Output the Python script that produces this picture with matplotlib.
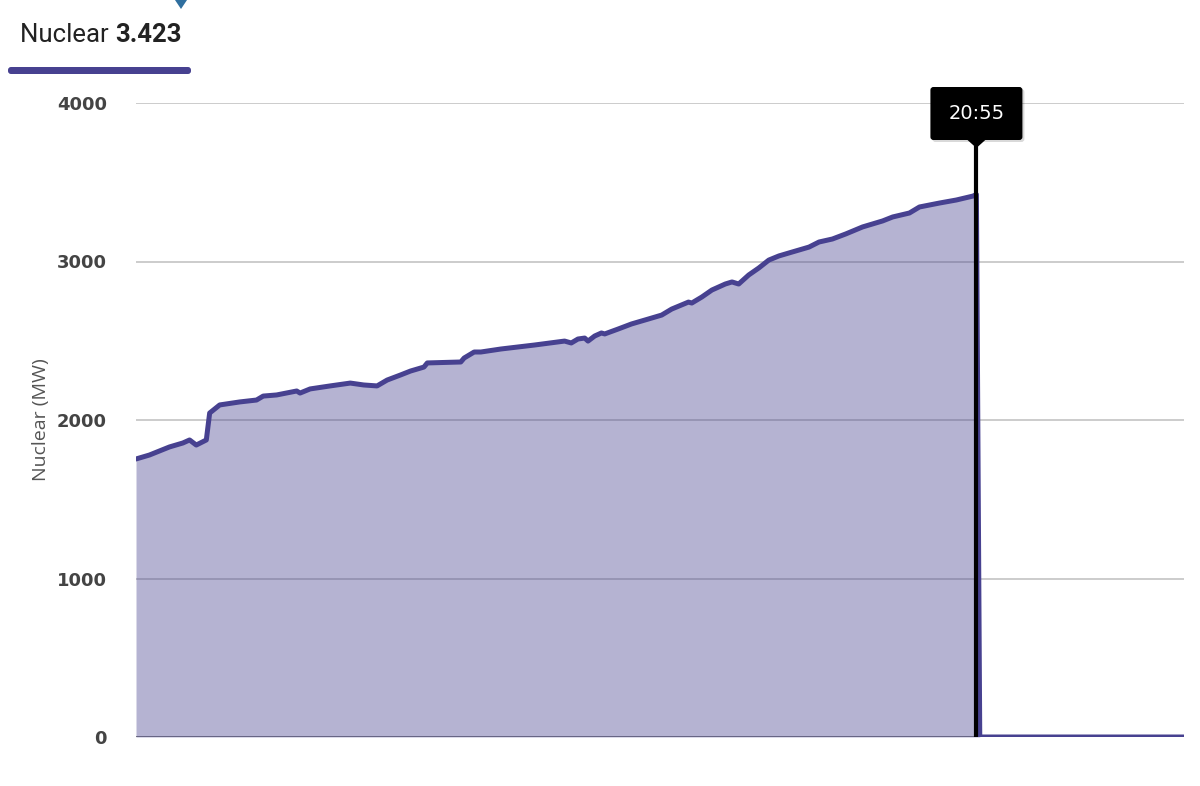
import numpy as np
import matplotlib.pyplot as plt
from matplotlib.patches import FancyBboxPatch, Polygon
from matplotlib.transforms import IdentityTransform

# Nuclear output (MW), times as HH:MM (past 24:00 = next day)
times = ["00:00", "00:20", "00:50", "01:10", "01:20", "01:30", "01:45", "01:50",
         "02:05", "02:35", "03:00", "03:10", "03:30", "04:00", "04:05", "04:20",
         "04:50", "05:20", "05:40", "06:00", "06:15", "06:35", "06:50", "07:10",
         "07:15", "08:05", "08:10", "08:25", "08:35", "09:05", "09:55", "10:40",
         "10:50", "11:00", "11:10", "11:15", "11:25", "11:35", "11:40", "12:00",
         "12:20", "12:45", "13:05", "13:20", "13:45", "13:50", "14:05", "14:20",
         "14:40", "14:50", "15:00", "15:15", "15:30", "15:45", "16:00", "16:20",
         "16:45", "17:00", "17:20", "17:40", "18:05", "18:35", "18:50", "19:15",
         "19:30", "20:00", "20:25", "20:50", "20:55", "21:00", "26:05"]
values = [1754, 1779, 1830, 1855, 1874, 1842, 1874, 2044,
          2095, 2114, 2126, 2151, 2158, 2183, 2170, 2196,
          2215, 2233, 2221, 2215, 2252, 2284, 2309, 2334,
          2360, 2366, 2391, 2429, 2429, 2448, 2473, 2498,
          2486, 2511, 2517, 2498, 2530, 2549, 2543, 2574,
          2606, 2637, 2662, 2700, 2744, 2738, 2776, 2820,
          2858, 2871, 2858, 2915, 2959, 3009, 3035, 3060,
          3091, 3123, 3142, 3174, 3218, 3256, 3281, 3306,
          3344, 3369, 3388, 3413, 3423, 0, 0]
cursor_label = "20:55"
y_ticks = [0, 1000, 2000, 3000, 4000]


def to_min(s):
    h, m = s.split(":")
    return int(h) * 60 + int(m)


x = np.array([to_min(t) for t in times])
y = np.array(values)
cursor = to_min(cursor_label)

purple = "#474190"

fig = plt.figure(figsize=(12, 7.86), dpi=100)
ax = fig.add_axes([136 / 1200, 1 - 737 / 786, 1048 / 1200, 634 / 786])

for t in y_ticks[1:]:
    ax.axhline(t, color="#c4c4c4", lw=1.2, zorder=1)
ax.axhline(0, color="#6e6e6e", lw=2, zorder=1)

ax.fill_between(x, 0, y, color=purple, alpha=0.4, lw=0, zorder=2)
ax.plot(x, y, color=purple, lw=3.6, solid_joinstyle="round",
        solid_capstyle="round", zorder=3)

ax.set_xlim(x[0], x[-1])
ax.set_ylim(0, 4000)
ax.set_xticks([])
ax.set_yticks(y_ticks)
ax.set_yticklabels([str(t) for t in y_ticks], fontsize=13, fontweight="bold",
                   color="#444444", family="DejaVu Sans")
ax.tick_params(axis="y", length=0, pad=21)
for s in ax.spines.values():
    s.set_visible(False)
ax.set_ylabel("Nuclear (MW)", fontsize=14, color="#555555", family="Open Sans",
              labelpad=5)

# tooltip and cursor line
tx, ty = ax.transData.transform((cursor, 4000))
tip_y = ty - 45
box_w, box_h = 92, 53
box_bottom = tip_y + 8
ax_bottom = ax.transAxes.transform((0, 0))[1]
ax_h = ax.transAxes.transform((0, 1))[1] - ax_bottom
ax.axvline(cursor, ymin=0, ymax=(tip_y - ax_bottom) / ax_h, color="black",
           lw=3, zorder=4)
shadow = FancyBboxPatch((tx - box_w / 2 + 2, box_bottom - 2), box_w, box_h,
                        boxstyle="round,pad=0,rounding_size=3",
                        transform=IdentityTransform(), facecolor="#000000",
                        alpha=0.15, edgecolor="none", zorder=9)
box = FancyBboxPatch((tx - box_w / 2, box_bottom), box_w, box_h,
                     boxstyle="round,pad=0,rounding_size=3",
                     transform=IdentityTransform(), facecolor="black",
                     edgecolor="none", zorder=10)
pointer = Polygon([(tx - 10, box_bottom + 1), (tx + 10, box_bottom + 1), (tx, tip_y)],
                  closed=True, transform=IdentityTransform(), facecolor="black",
                  edgecolor="none", zorder=10)
fig.add_artist(shadow)
fig.add_artist(box)
fig.add_artist(pointer)
fig.text(tx / 1200, (box_bottom + box_h / 2) / 786, cursor_label, color="white",
         fontsize=14, family="DejaVu Sans", ha="center", va="center", zorder=11)

# header: series name and current value
name_txt = fig.text(20 / 1200, 1 - 35 / 786, "Nuclear ", fontsize=18.5,
                    family="Roboto", color="#222222", va="center")
fig.canvas.draw()
bb = name_txt.get_window_extent()
fig.text(bb.x1 / 1200, 1 - 35 / 786, f"{y[x == cursor][0] / 1000:.3f}",
         fontsize=18.5, family="Roboto", fontweight="bold", color="#222222",
         va="center")
bar = FancyBboxPatch((8, 786 - 74), 183, 7,
                     boxstyle="round,pad=0,rounding_size=3",
                     transform=IdentityTransform(), facecolor=purple,
                     edgecolor="none")
fig.add_artist(bar)
marker = Polygon([(175 / 1200, 1.0), (187 / 1200, 1.0), (181 / 1200, 1 - 9 / 786)],
                 closed=True, transform=fig.transFigure, facecolor="#2f6f9f",
                 edgecolor="none")
fig.add_artist(marker)

fig.savefig("out.png", dpi=100)
